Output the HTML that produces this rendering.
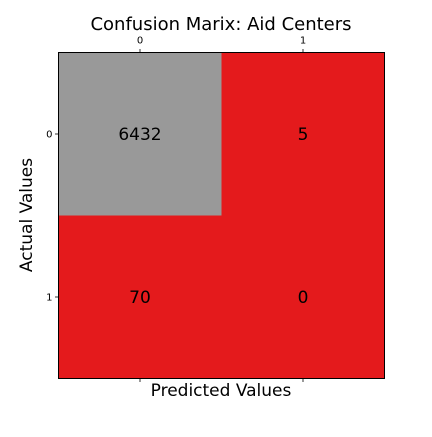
<!DOCTYPE html>
<html><head><meta charset="utf-8"><style>
html,body{margin:0;padding:0;background:#fff;}
svg text{font-family:"DejaVu Sans","Liberation Sans",sans-serif;}
</style></head><body>
<svg width="432" height="432" viewBox="0 0 432 432" xmlns="http://www.w3.org/2000/svg">
<text x="221" y="30" font-size="18" text-anchor="middle">Confusion Marix: Aid Centers</text>
<g id="cells"></g>
<rect x="58.5" y="52.5" width="326" height="326" fill="none" stroke="#000" stroke-width="1"/>
<g id="ticks"></g>
<text x="221" y="396" font-size="17" text-anchor="middle">Predicted Values</text>
<text x="32" y="215" font-size="17" text-anchor="middle" transform="rotate(-90 32 215)">Actual Values</text>
</svg>
<script>
const labels = ["0","1"];
const values = [[6432,5],[70,0]];
const colors = [["#999999","#e41a1c"],["#e41a1c","#e41a1c"]];
const NS="http://www.w3.org/2000/svg";
const x0=58.5, y0=52.5, size=326, n=labels.length, cw=size/n;
const xs=i=>x0+i*cw, ys=j=>y0+j*cw;
const cells=document.getElementById('cells'), ticks=document.getElementById('ticks');
for(let r=0;r<n;r++)for(let c=0;c<n;c++){
  const rect=document.createElementNS(NS,'rect');
  rect.setAttribute('x',xs(c));rect.setAttribute('y',ys(r));
  rect.setAttribute('width',cw);rect.setAttribute('height',cw);
  rect.setAttribute('fill',colors[r][c]);
  
  
  cells.appendChild(rect);
  const t=document.createElementNS(NS,'text');
  t.setAttribute('x',xs(c)+cw/2);t.setAttribute('y',ys(r)+cw/2+6);
  t.setAttribute('font-size','17');t.setAttribute('text-anchor','middle');
  t.textContent=values[r][c];
  
  
  cells.appendChild(t);
}
function line(x1,y1,x2,y2,name){
  const l=document.createElementNS(NS,'line');
  l.setAttribute('x1',x1);l.setAttribute('y1',y1);l.setAttribute('x2',x2);l.setAttribute('y2',y2);
  l.setAttribute('stroke','#000');l.setAttribute('stroke-width','0.8');
  
  
  ticks.appendChild(l);
}
function label(x,y,s,anchor,name){
  const t=document.createElementNS(NS,'text');
  t.setAttribute('x',x);t.setAttribute('y',y);t.setAttribute('font-size','10');t.setAttribute('text-anchor',anchor);
  t.textContent=s;
  
  
  ticks.appendChild(t);
}
labels.forEach((s,i)=>{
  const cx=xs(i)+cw/2, cy=ys(i)+cw/2;
  line(cx,y0,cx,y0-3.5,'top-tick-'+s);
  label(cx,y0-9,s,'middle','top-tick-label-'+s);
  line(cx,y0+size,cx,y0+size+3.5,'bottom-tick-'+s);
  line(x0,cy,x0-3.5,cy,'left-tick-'+s);
  label(x0-6,cy+3.5,s,'end','left-tick-label-'+s);
});
</script>
</body></html>
